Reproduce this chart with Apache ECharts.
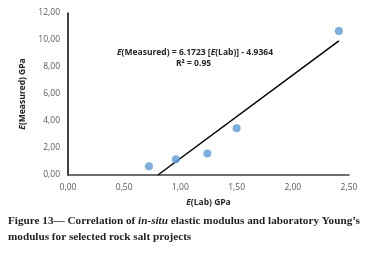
<!DOCTYPE html>
<html><head><meta charset="utf-8">
<script src="https://cdn.jsdelivr.net/npm/echarts@6/dist/echarts.min.js"></script>
<style>html,body{margin:0;padding:0;background:#fff}#c{width:366px;height:255px}</style>
</head><body><div id="c"></div>
<script>
// Data
const labE = [0.72, 0.96, 1.24, 1.50, 2.41];
const measuredE = [0.65, 1.16, 1.60, 3.46, 10.67];
const trendX = [0.80, 2.41];
const trendY = [0.00, 9.94];
const xTicks = [0, 0.5, 1, 1.5, 2, 2.5];
const yTicks = [0, 2, 4, 6, 8, 10, 12];
const equationLines = ['E(Measured) = 6.1723 [E(Lab)] - 4.9364', 'R² = 0.95'];

const chart = echarts.init(document.getElementById('c'));
const fmt = v => v.toFixed(2).replace('.', ',');
const lab = {i: {fontStyle: 'italic', fontWeight: 'bold', fontSize: 8.5, color: '#262626', fontFamily: 'Open Sans'},
             b: {fontWeight: 'bold', fontSize: 8.5, color: '#262626', fontFamily: 'Open Sans'}};
chart.setOption({
  animation: false,
  grid: {left: 68, right: 17, top: 13, bottom: 80},
  xAxis: {
    type: 'value', min: xTicks[0], max: xTicks[xTicks.length-1], interval: 0.5,
    axisLine: {show: true, lineStyle: {color: '#404040', width: 1.5}},
    axisTick: {show: false}, splitLine: {show: false},
    axisLabel: {formatter: fmt, color: '#595959', fontSize: 8.5, fontFamily: 'Open Sans', margin: 8},
    name: '{i|E}{b|(Lab) GPa}', nameLocation: 'middle', nameGap: 23,
    nameTextStyle: {rich: lab}
  },
  yAxis: {
    type: 'value', min: yTicks[0], max: yTicks[yTicks.length-1], interval: 2,
    axisLine: {show: true, lineStyle: {color: '#000', width: 1.5}},
    axisTick: {show: false}, splitLine: {show: false},
    axisLabel: {formatter: fmt, color: '#595959', fontSize: 8.5, fontFamily: 'Open Sans', margin: 8},
    name: '{i|E}{b|(Measured) GPa}', nameLocation: 'middle', nameGap: 40, nameRotate: 90,
    nameTextStyle: {rich: lab}
  },
  series: [
    {type: 'line', data: trendX.map((x, i) => [x, trendY[i]]), symbol: 'none',
     lineStyle: {color: '#000', width: 1.5}, z: 2},
    {type: 'scatter', data: labE.map((x, i) => [x, measuredE[i]]), symbolSize: 8,
     itemStyle: {color: '#5B9BD5'}, z: 3}
  ],
  graphic: [
    {type: 'text', left: 117, top: 48, style: {
      text: '{i|E}{b|(Measured) = 6.1723 [}{i|E}{b|(Lab)] - 4.9364}',
      rich: {i: {fontStyle: 'italic', fontWeight: 'bold', fontSize: 8.5, fill: '#262626', fontFamily: 'Open Sans'},
             b: {fontWeight: 'bold', fontSize: 8.5, fill: '#262626', fontFamily: 'Open Sans'}}}},
    {type: 'text', left: 176, top: 59, style: {
      text: equationLines[1], font: 'bold 8.5px "Open Sans"', fill: '#262626'}},
    {type: 'text', left: 8, top: 216, style: {
      text: '{b|Figure 13— Correlation of }{i|in-situ}{b| elastic modulus and laboratory Young’s}',
      rich: {b: {fontWeight: 'bold', fontSize: 11.2, fill: '#231f20', fontFamily: 'Liberation Serif'},
             i: {fontWeight: 'bold', fontStyle: 'italic', fontSize: 11.2, fill: '#231f20', fontFamily: 'Liberation Serif'}}}},
    {type: 'text', left: 8, top: 232, style: {
      text: 'modulus for selected rock salt projects', font: 'bold 11.2px "Liberation Serif"', fill: '#231f20'}}
  ]
});
</script></body></html>
